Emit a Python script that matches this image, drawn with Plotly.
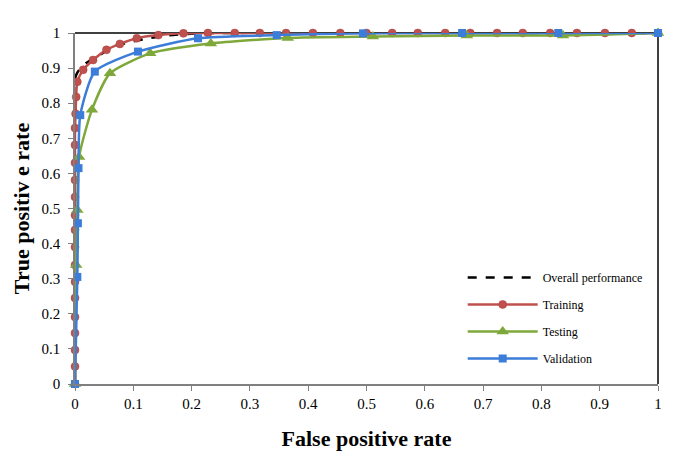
import plotly.graph_objects as go

# Overall performance (dashed)
overall_fpr = [0, 0, 0.005, 0.01, 0.02, 0.035, 0.048, 0.06, 0.08, 0.1, 0.13, 0.16, 0.2, 0.25, 1.0]
overall_tpr = [0, 0.87, 0.89, 0.9, 0.915, 0.93, 0.943, 0.958, 0.968, 0.976, 0.986, 0.993, 0.998, 1.0, 1.0]

# Training (red circles)
train_fpr = [0, 0, 0, 0, 0, 0, 0, 0, 0, 0, 0, 0, 0, 0, 0, 0, 0.001, 0.002, 0.004,
             0.014, 0.031, 0.054, 0.077, 0.106, 0.143, 0.186, 0.228, 0.274, 0.317,
             0.362, 0.408, 0.455, 0.5, 0.544, 0.588, 0.635, 0.678, 0.724, 0.768,
             0.815, 0.861, 0.909, 0.955, 1.0]
train_tpr = [0, 0.05, 0.097, 0.145, 0.191, 0.245, 0.291, 0.339, 0.39, 0.439, 0.481,
             0.533, 0.581, 0.63, 0.681, 0.729, 0.77, 0.818, 0.861,
             0.895, 0.923, 0.952, 0.969, 0.985, 0.994, 0.999, 1.0, 1.0, 1.0,
             1.0, 1.0, 1.0, 1.0, 1.0, 1.0, 1.0, 1.0, 1.0, 1.0,
             1.0, 1.0, 1.0, 1.0, 1.0]

# Testing (green triangles)
test_fpr = [0, 0.002, 0.004, 0.007, 0.029, 0.06, 0.129, 0.233, 0.365, 0.511, 0.672, 0.837, 1.0]
test_tpr = [0, 0.339, 0.496, 0.647, 0.781, 0.885, 0.942, 0.97, 0.986, 0.99, 0.993, 0.993, 1.0]

# Validation (blue squares)
val_fpr = [0, 0.004, 0.005, 0.006, 0.009, 0.034, 0.108, 0.211, 0.346, 0.494, 0.664, 0.829, 1.0]
val_tpr = [0, 0.305, 0.458, 0.615, 0.766, 0.89, 0.947, 0.985, 0.994, 0.999, 1.0, 1.0, 1.0]

x_ticks = [0, 0.1, 0.2, 0.3, 0.4, 0.5, 0.6, 0.7, 0.8, 0.9, 1]
x_tick_text = ["0", "0.1", "0.2", "0.3", "0.4", "0.5", "0.6", "0.7", "0.8", "0.9", "1"]
y_ticks = [0, 0.1, 0.2, 0.3, 0.4, 0.5, 0.6, 0.7, 0.8, 0.9, 1]
y_tick_text = ["0", "0.1", "0.2", "0.3", "0.4", "0.5", "0.6", "0.7", "0.8", "0.9", "1"]

RED = "#C0504D"
GREEN = "#7FA83A"
BLUE = "#3B7DD8"
FONT = "Liberation Serif"

fig = go.Figure()
fig.add_trace(go.Scatter(x=overall_fpr, y=overall_tpr, mode="lines", name="Overall performance",
                         line=dict(color="black", width=2.5, dash="dash", shape="spline", smoothing=0.6),
                         legendgroup="a", cliponaxis=False))
fig.add_trace(go.Scatter(x=train_fpr, y=train_tpr, mode="lines+markers", name="Training",
                         line=dict(color=RED, width=2.5, shape="spline", smoothing=0.6),
                         marker=dict(symbol="circle", size=8, color=RED,
                                     line=dict(color="#A8403D", width=0.5)),
                         legendgroup="b", cliponaxis=False))
fig.add_trace(go.Scatter(x=test_fpr, y=test_tpr, mode="lines+markers", name="Testing",
                         line=dict(color=GREEN, width=2.5, shape="spline", smoothing=0.6),
                         marker=dict(symbol="triangle-up", size=11, color=GREEN),
                         legendgroup="c", cliponaxis=False))
fig.add_trace(go.Scatter(x=val_fpr, y=val_tpr, mode="lines+markers", name="Validation",
                         line=dict(color=BLUE, width=2.5, shape="spline", smoothing=0.6),
                         marker=dict(symbol="square", size=8, color=BLUE),
                         legendgroup="d", cliponaxis=False))

fig.update_layout(
    width=685, height=473,
    margin=dict(l=67, r=35, t=25, b=97),
    paper_bgcolor="white", plot_bgcolor="white",
    font=dict(family=FONT, color="black", size=13),
    showlegend=True,
    legend=dict(x=0.665, y=0.345, xanchor="left", yanchor="top",
                font=dict(family=FONT, size=12, color="black"),
                itemwidth=70, traceorder="grouped", tracegroupgap=8,
                bgcolor="rgba(0,0,0,0)"),
    xaxis=dict(range=[0, 1], tickvals=x_ticks, ticktext=x_tick_text, automargin=False,
               showgrid=False, zeroline=False, showline=True, linecolor="#808080", linewidth=1.5,
               ticks="outside", ticklen=5, tickcolor="#808080",
               tickfont=dict(family=FONT, size=15),
               title=dict(text="<b>False positive rate</b>", font=dict(family=FONT, size=22), standoff=20)),
    yaxis=dict(range=[0, 1], tickvals=y_ticks, ticktext=y_tick_text, automargin=False,
               showgrid=False, zeroline=False, showline=True, linecolor="#808080", linewidth=1.5,
               ticks="outside", ticklen=5, tickcolor="#808080", ticklabelstandoff=5,
               tickfont=dict(family=FONT, size=15),
               title=dict(text="<b>True positiv e rate</b>", font=dict(family=FONT, size=22), standoff=6)),
)
fig.add_shape(type="line", xref="paper", yref="paper", x0=0, x1=1, y0=1, y1=1,
              line=dict(color="black", width=1.5), layer="below")
fig.add_shape(type="line", xref="paper", yref="paper", x0=1, x1=1, y0=0, y1=1,
              line=dict(color="black", width=1.5), layer="below")

fig.write_html("out.html")
